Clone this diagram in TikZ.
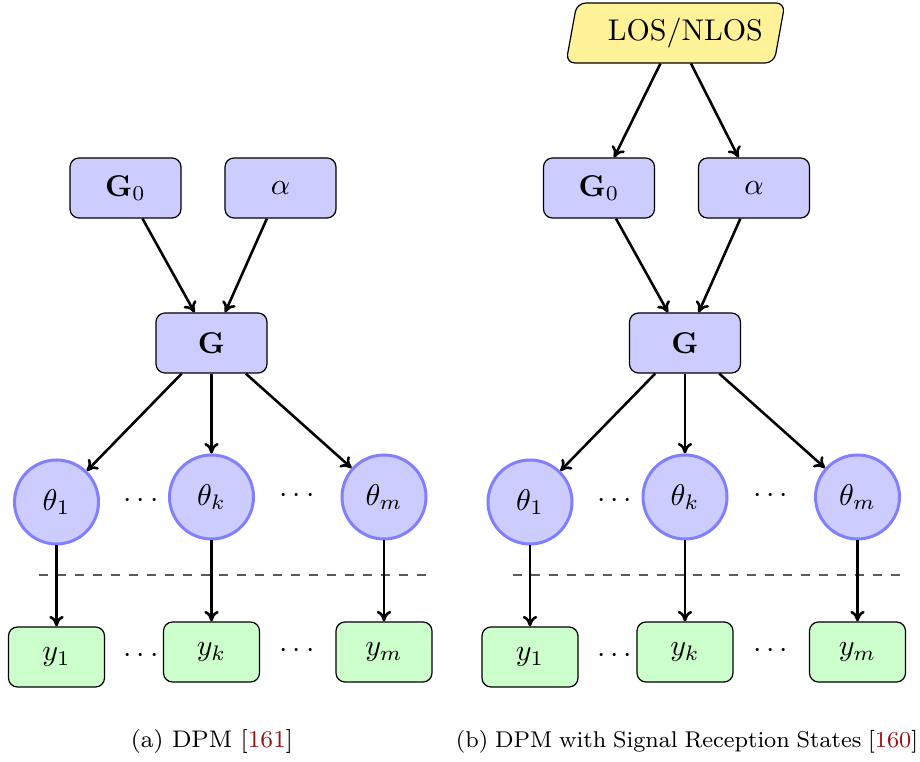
\documentclass[tikz,border=0pt]{standalone}
\usetikzlibrary{shapes.geometric,arrows.meta}
\definecolor{boxblue}{RGB}{204,204,255}
\definecolor{circblue}{RGB}{128,128,255}
\definecolor{boxgreen}{RGB}{204,255,204}
\definecolor{losyellow}{RGB}{255,242,153}
\definecolor{citered}{RGB}{150,20,20}
\definecolor{dashgray}{RGB}{90,90,90}
\begin{document}
\begin{tikzpicture}[x=0.3333pt,y=-0.3333pt,
  bluebox/.style={draw=black,fill=boxblue,rounded corners=3pt,minimum width=37pt,minimum height=20pt,inner sep=0pt},
  greenbox/.style={draw=black,fill=boxgreen,rounded corners=3pt,minimum width=32pt,minimum height=20pt,inner sep=0pt},
  thetanode/.style={circle,draw=circblue,fill=boxblue,line width=1pt,minimum size=28pt,inner sep=0pt},
  losnode/.style={trapezium,trapezium left angle=70,trapezium right angle=110,trapezium stretches body,draw=black,fill=losyellow,rounded corners=3pt,minimum width=73pt,minimum height=20pt,inner sep=0pt},
  arr/.style={-{To[length=3.5pt,width=4.8pt]},line width=0.85pt},
  sepline/.style={dashed,dashgray,thin},
  dotsnode/.style={inner sep=0pt},
  capnode/.style={font=\footnotesize}]
\useasboundingbox (0,0) rectangle (920,762);
% ---------- left panel ----------
\node[bluebox] (aG0) at (125.5,188) {$\mathbf{G}_0$};
\node[bluebox] (aal) at (280.5,188) {$\alpha$};
\node[bluebox] (aG) at (211.5,343) {$\mathbf{G}$};
\node[thetanode] (at1) at (56.5,502) {$\theta_1$};
\node[thetanode] (atk) at (211.5,497) {$\theta_k$};
\node[thetanode] (atm) at (384,497) {$\theta_m$};
\node[dotsnode] (ad1) at (141,501) {$\cdots$};
\node[dotsnode] (ad2) at (297,496) {$\cdots$};
\node[greenbox] (ay1) at (56.5,657) {$y_1$};
\node[greenbox] (ayk) at (211.5,652) {$y_k$};
\node[greenbox] (aym) at (384,652) {$y_m$};
\node[dotsnode] (ad3) at (141,656) {$\cdots$};
\node[dotsnode] (ad4) at (297,651) {$\cdots$};
\coordinate (asl) at (39,575);
\coordinate (asr) at (427,575);
\draw[sepline] (asl) -- (asr);
\draw[arr] (aG0) -- (aG);
\draw[arr] (aal) -- (aG);
\draw[arr] (aG) -- (at1);
\draw[arr] (aG) -- (atk);
\draw[arr] (aG) -- (atm);
\draw[arr] (at1) -- (ay1);
\draw[arr] (atk) -- (ayk);
\draw[arr] (atm) -- (aym);
\node[capnode] (capa) at (212,742) {(a)~DPM [\textcolor{citered}{161}]};
% ---------- right panel ----------
\node[losnode] (los) at (675.5,33) {\hspace*{6.6pt}LOS/NLOS};
\node[bluebox] (bG0) at (599,188) {$\mathbf{G}_0$};
\node[bluebox] (bal) at (754,188) {$\alpha$};
\node[bluebox] (bG) at (685,343) {$\mathbf{G}$};
\node[thetanode] (bt1) at (530,502) {$\theta_1$};
\node[thetanode] (btk) at (685,497) {$\theta_k$};
\node[thetanode] (btm) at (857.5,497) {$\theta_m$};
\node[dotsnode] (bd1) at (614.5,501) {$\cdots$};
\node[dotsnode] (bd2) at (770.5,496) {$\cdots$};
\node[greenbox] (by1) at (530,657) {$y_1$};
\node[greenbox] (byk) at (685,652) {$y_k$};
\node[greenbox] (bym) at (857.5,652) {$y_m$};
\node[dotsnode] (bd3) at (614.5,656) {$\cdots$};
\node[dotsnode] (bd4) at (770.5,651) {$\cdots$};
\coordinate (bsl) at (512.5,575);
\coordinate (bsr) at (900.5,575);
\draw[sepline] (bsl) -- (bsr);
\draw[arr] (los) -- (bG0);
\draw[arr] (los) -- (bal);
\draw[arr] (bG0) -- (bG);
\draw[arr] (bal) -- (bG);
\draw[arr] (bG) -- (bt1);
\draw[arr] (bG) -- (btk);
\draw[arr] (bG) -- (btm);
\draw[arr] (bt1) -- (by1);
\draw[arr] (btk) -- (byk);
\draw[arr] (btm) -- (bym);
\node[capnode,font=\fontsize{7.6}{9}\selectfont] (capb) at (687,742) {\spaceskip=0.85\fontdimen2\font plus 0.1pt(b)~DPM with Signal Reception States [\textcolor{citered}{160}]};
\end{tikzpicture}
\end{document}
